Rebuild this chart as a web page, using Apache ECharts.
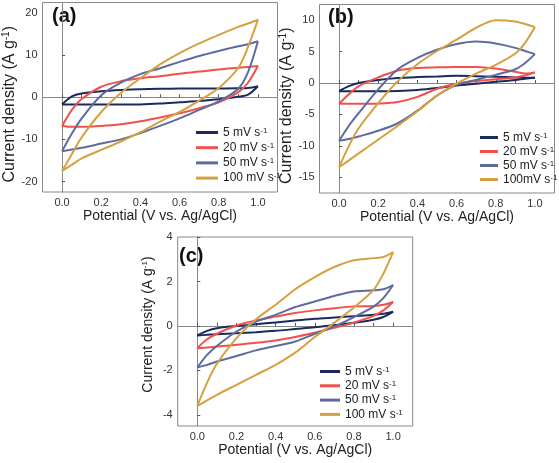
<!DOCTYPE html>
<html>
<head>
<meta charset="utf-8">
<script src="https://cdn.jsdelivr.net/npm/echarts@6/dist/echarts.min.js"></script>
<style>html,body{margin:0;padding:0;background:#fff}#c{width:559px;height:463px}</style>
</head>
<body>
<div id="c"></div>
<script>
// Potential sampling (V vs. Ag/AgCl)
const P = [0, 0.05, 0.1, 0.2, 0.3, 0.4, 0.5, 0.6, 0.7, 0.8, 0.9, 0.95, 1.0];

const namesA = ['5 mV s-1', '20 mV s-1', '50 mV s-1', '100 mV s-1'];
const namesB = ['5 mV s-1', '20 mV s-1', '50 mV s-1', '100mV s-1'];
const namesC = ['5 mV s-1', '20 mV s-1', '50 mV s-1', '100 mV s-1'];

// Panel (a): forward (anodic) and reverse (cathodic) branches
const a5Fwd   = [-1.7, 0.2, 0.9, 1.4, 1.7, 1.9, 2.0, 2.05, 2.1, 2.1, 2.15, 2.2, 2.6];
const a5Rev   = [-1.7, -1.75, -1.75, -1.75, -1.75, -1.7, -1.5, -1.2, -0.9, -0.5, 0.1, 0.6, 2.6];
const a20Fwd  = [-6.8, -3.0, -0.4, 2.5, 3.8, 4.5, 5.0, 5.6, 6.1, 6.6, 7.0, 7.2, 7.4];
const a20Rev  = [-6.8, -7.0, -7.0, -6.8, -6.4, -5.7, -4.8, -3.8, -2.6, -1.2, 1.2, 3.5, 7.4];
const a50Fwd  = [-12.8, -8.6, -5.0, 0.5, 3.5, 5.5, 6.9, 8.4, 9.8, 11.0, 12.1, 12.6, 13.3];
const a50Rev  = [-12.8, -12.4, -12.0, -11.0, -10.0, -8.5, -6.8, -5.0, -3.0, -1.0, 2.0, 6.0, 13.3];
const a100Fwd = [-17.5, -13.5, -9.5, -3.5, 1.0, 4.5, 7.8, 10.5, 12.8, 14.8, 16.7, 17.5, 18.4];
const a100Rev = [-17.5, -16.0, -14.5, -12.5, -10.5, -8.3, -5.8, -3.5, -0.8, 2.2, 7.0, 12.0, 18.4];

// Panel (b)
const b5Fwd   = [-1.3, -0.5, 0.0, 0.5, 0.8, 0.95, 1.05, 1.15, 1.1, 1.0, 0.9, 0.85, 0.85];
const b5Rev   = [-1.3, -1.3, -1.3, -1.3, -1.25, -1.1, -0.8, -0.4, -0.1, 0.2, 0.5, 0.7, 0.85];
const b20Fwd  = [-3.3, -1.8, -0.5, 0.9, 2.0, 2.4, 2.5, 2.55, 2.55, 2.3, 1.8, 1.5, 1.7];
const b20Rev  = [-3.3, -3.3, -3.3, -3.25, -3.0, -2.2, -0.9, -0.1, 0.3, 0.6, 0.9, 1.2, 1.7];
const b50Fwd  = [-9.2, -6.8, -4.8, -1.0, 2.2, 4.0, 5.3, 6.2, 6.6, 6.3, 5.6, 5.1, 4.6];
const b50Rev  = [-9.2, -8.9, -8.5, -7.6, -6.4, -4.4, -2.0, -0.3, 0.5, 1.3, 2.2, 3.2, 4.6];
const b100Fwd = [-13.4, -10.0, -7.2, -3.2, 0.3, 3.0, 5.1, 6.9, 8.8, 10.0, 9.8, 9.4, 8.9];
const b100Rev = [-13.4, -12.3, -11.2, -9.0, -6.8, -4.5, -2.0, -0.1, 1.5, 2.9, 4.7, 6.4, 8.9];

// Panel (c)
const c5Fwd   = [-0.43, -0.22, -0.1, 0.0, 0.08, 0.16, 0.24, 0.32, 0.38, 0.44, 0.5, 0.55, 0.64];
const c5Rev   = [-0.43, -0.4, -0.37, -0.33, -0.28, -0.22, -0.14, -0.06, 0.04, 0.14, 0.28, 0.4, 0.64];
const c20Fwd  = [-1.0, -0.6, -0.35, 0.02, 0.25, 0.42, 0.58, 0.7, 0.8, 0.88, 0.9, 0.95, 1.08];
const c20Rev  = [-1.0, -0.97, -0.93, -0.85, -0.76, -0.65, -0.5, -0.3, -0.08, 0.15, 0.45, 0.7, 1.08];
const c50Fwd  = [-1.87, -1.3, -0.9, -0.25, 0.2, 0.5, 0.85, 1.1, 1.35, 1.55, 1.6, 1.65, 1.84];
const c50Rev  = [-1.87, -1.75, -1.6, -1.35, -1.1, -0.9, -0.7, -0.35, -0.02, 0.4, 0.87, 1.25, 1.84];
const c100Fwd = [-3.6, -2.55, -1.7, -0.55, 0.3, 0.95, 1.65, 2.2, 2.65, 2.95, 3.05, 3.1, 3.32];
const c100Rev = [-3.6, -3.35, -3.1, -2.65, -2.2, -1.75, -1.2, -0.5, 0.15, 0.83, 1.62, 2.35, 3.32];

// Tick values
const xLabels = [0, 0.2, 0.4, 0.6, 0.8, 1.0];
const xTicks = [0, 0.1, 0.2, 0.3, 0.4, 0.5, 0.6, 0.7, 0.8, 0.9, 1.0];
const yLabelsA = [-20, -10, 0, 10, 20];
const yLabelsB = [-15, -10, -5, 0, 5, 10];
const yLabelsC = [-4, -2, 0, 2, 4];

const COLORS = ['#1b2a5c', '#f2504c', '#5e6b9f', '#d6a040'];
const FONT = 'Liberation Sans, Arial, sans-serif';

const chart = echarts.init(document.getElementById('c'));

const grids = [
  { left: 42.5, top: 2.5, width: 235, height: 189.5 },
  { left: 319.5, top: 4.5, width: 235, height: 188.5 },
  { left: 177.7, top: 237, width: 235, height: 189 }
];

const supRich = {
  sup: { fontSize: 8, fontFamily: FONT, color: '#222', verticalAlign: 'top', lineHeight: 12, padding: [0, 0, 5, 0] }
};
function supFmt(name) { return name.replace('-1', '{sup|-1}'); }

function xAxisFor(i, nameGap) {
  return {
    gridIndex: i, type: 'value', min: -0.1, max: 1.1,
    axisLine: { show: true, lineStyle: { color: '#888', width: 1 } },
    axisTick: { show: true, inside: true, length: 3, customValues: xTicks, lineStyle: { color: '#555' } },
    axisLabel: { customValues: xLabels, formatter: v => v.toFixed(1), fontSize: 11, color: '#333', margin: 5, fontFamily: FONT },
    splitLine: { show: false },
    name: 'Potential (V vs. Ag/AgCl)', nameLocation: 'middle', nameGap: nameGap,
    nameTextStyle: { fontSize: 14, color: '#222', fontFamily: FONT }
  };
}
function yAxisFor(i, min, max, labels, nameGap, nameSize, namePad) {
  return {
    gridIndex: i, type: 'value', min: min, max: max,
    axisLine: { show: true, lineStyle: { color: '#888', width: 1 } },
    axisTick: { show: true, inside: true, length: 3, customValues: labels, lineStyle: { color: '#555' } },
    axisLabel: { customValues: labels, fontSize: 11, color: '#333', margin: 5, fontFamily: FONT },
    splitLine: { show: false },
    name: 'Current density (A g{sup|-1})', nameLocation: 'middle', nameGap: nameGap, nameRotate: 90,
    nameTextStyle: { fontSize: nameSize, color: '#222', fontFamily: FONT, padding: namePad,
      rich: { sup: { fontSize: Math.round(nameSize * 0.6), fontFamily: FONT, color: '#222', verticalAlign: 'top', padding: [0, 0, 7, 0] } } }
  };
}

const panels = [
  { names: namesA, fwd: [a5Fwd, a20Fwd, a50Fwd, a100Fwd], rev: [a5Rev, a20Rev, a50Rev, a100Rev] },
  { names: namesB, fwd: [b5Fwd, b20Fwd, b50Fwd, b100Fwd], rev: [b5Rev, b20Rev, b50Rev, b100Rev] },
  { names: namesC, fwd: [c5Fwd, c20Fwd, c50Fwd, c100Fwd], rev: [c5Rev, c20Rev, c50Rev, c100Rev] }
];

const series = [];
panels.forEach((p, gi) => {
  p.names.forEach((nm, k) => {
    [p.fwd[k], p.rev[k]].forEach(arr => {
      series.push({
        type: 'line', name: nm, xAxisIndex: gi, yAxisIndex: gi,
        data: P.map((x, j) => [x, arr[j]]),
        showSymbol: false, smooth: 0.3,
        color: COLORS[k],
        lineStyle: { color: COLORS[k], width: 2 },
        z: 2 + k,
        animation: false
      });
    });
  });
});

function legendFor(left, top, itemWidth, gap, names) {
  return {
    left: left, top: top, orient: 'vertical', itemWidth: itemWidth, itemHeight: 3, itemGap: gap,
    icon: 'rect', selectedMode: false, data: names.map((n, k) => ({ name: n, itemStyle: { color: COLORS[k] } })),
    formatter: supFmt,
    textStyle: { fontSize: 12, color: '#222', fontFamily: FONT, lineHeight: 12, rich: supRich }
  };
}

chart.setOption({
  backgroundColor: '#fff',
  animation: false,
  grid: grids.map(g => Object.assign({ show: true, borderColor: '#888', borderWidth: 1, backgroundColor: 'transparent', containLabel: false }, g)),
  xAxis: [xAxisFor(0, 16), xAxisFor(1, 16), xAxisFor(2, 17)],
  yAxis: [
    yAxisFor(0, -22.5, 22.5, yLabelsA, 21, 16, [0, 14, 0, 0]),
    yAxisFor(1, -17.5, 12.5, yLabelsB, 18, 16, [0, 14, 0, 0]),
    yAxisFor(2, -4.5, 4, yLabelsC, 22, 14, [0, 0, 0, 14])
  ],
  legend: [
    legendFor(191, 121.5, 22, 2.2, namesA),
    legendFor(475, 126.5, 18, 1, namesB),
    legendFor(315, 360.5, 20, 1.3, namesC)
  ],
  graphic: [
    { type: 'text', left: 52, top: 6, style: { text: '(a)', font: 'bold 20px ' + FONT, fill: '#111' } },
    { type: 'text', left: 328, top: 7, style: { text: '(b)', font: 'bold 20px ' + FONT, fill: '#111' } },
    { type: 'text', left: 179, top: 246, style: { text: '(c)', font: 'bold 20px ' + FONT, fill: '#111' } }
  ],
  series: series
});
</script>
</body>
</html>
